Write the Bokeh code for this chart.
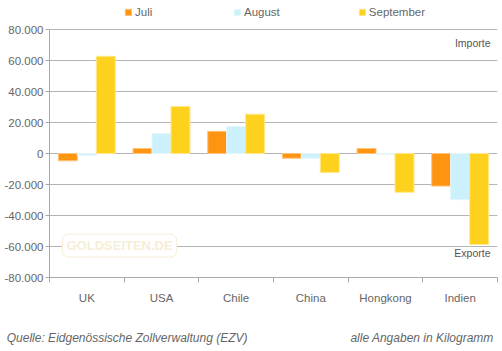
from bokeh.plotting import figure
from bokeh.models import (ColumnDataSource, Range1d, FixedTicker, Legend, LegendItem, Label,
                          LinearAxis)
from bokeh.transform import dodge
from bokeh.embed import file_html
from bokeh.resources import INLINE

categories = ["UK", "USA", "Chile", "China", "Hongkong", "Indien"]
juli = [-4700, 3200, 14300, -3000, 3200, -21000]
august = [-1200, 12900, 17500, -3000, -600, -29800]
september = [62700, 30300, 25300, -12200, -25000, -58700]
series_names = ["Juli", "August", "September"]
y_ticks = [-80000, -60000, -40000, -20000, 0, 20000, 40000, 60000, 80000]
source_note = "Quelle: Eidgenössische Zollverwaltung (EZV)"
unit_note = "alle Angaben in Kilogramm"

colors = ["#FF9411", "#CCF0FC", "#FFD11F"]
edges = ["#FFC27A", "#E3F7FD", "#FFE789"]
FONT = "Liberation Sans"
GREY = "#666666"
AXIS = "#A8A8A8"

src = ColumnDataSource(dict(
    x=[i + 0.5 for i in range(len(categories))],
    juli=juli, august=august, september=september,
))

# frame spans from the canvas top to the x axis (277 px); 31 px per 20000
y_top = -80000 + 277 / 31 * 20000
p = figure(width=502, height=351, output_backend="svg", toolbar_location=None,
           x_range=Range1d(0, len(categories)), y_range=Range1d(-80000, y_top),
           min_border_left=49, min_border_right=5, min_border_top=0,
           min_border_bottom=74)
p.outline_line_color = None
p.background_fill_color = "white"
p.border_fill_color = "white"

bw = 0.254
offsets = [-bw, 0.0, bw]
fields = ["juli", "august", "september"]
renderers = []
for f, off, c, e in zip(fields, offsets, colors, edges):
    r = p.vbar(x=dodge("x", off), top=f, bottom=0, width=bw, source=src,
               fill_color=c, line_color=e, line_width=1)
    renderers.append(r)

# x axis: labels centred in categories, tick marks between categories
p.xaxis.ticker = FixedTicker(ticks=[i + 0.5 for i in range(len(categories))],
                             minor_ticks=list(range(len(categories) + 1)))
p.xaxis.major_label_overrides = {i + 0.5: c for i, c in enumerate(categories)}
p.xaxis.major_tick_out = 0
p.xaxis.major_tick_in = 0
p.xaxis.minor_tick_out = 5
p.xaxis.minor_tick_in = 0
p.xaxis.minor_tick_line_color = AXIS
p.xaxis.axis_line_color = AXIS
p.xaxis.major_label_standoff = 9
p.xaxis.major_label_text_font = FONT
p.xaxis.major_label_text_font_size = "11.5px"
p.xaxis.major_label_text_color = GREY
p.xgrid.visible = False

p.yaxis.ticker = FixedTicker(ticks=y_ticks)
p.yaxis.bounds = (y_ticks[0], y_ticks[-1])
p.yaxis.major_label_overrides = {t: f"{t:,}".replace(",", ".") for t in y_ticks}
p.yaxis.major_tick_out = 4
p.yaxis.major_tick_in = 0
p.yaxis.minor_tick_line_color = None
p.yaxis.major_tick_line_color = AXIS
p.yaxis.axis_line_color = AXIS
p.yaxis.major_label_standoff = 2
p.yaxis.major_label_text_font = FONT
p.yaxis.major_label_text_font_size = "11.5px"
p.yaxis.major_label_text_color = GREY
p.ygrid.ticker = FixedTicker(ticks=y_ticks)
p.ygrid.grid_line_color = "#B4B4B4"

# footer notes as a second, line-less axis below
foot = LinearAxis(ticker=FixedTicker(ticks=[1.04, 4.99]),
                  major_label_overrides={1.04: source_note, 4.99: unit_note},
                  axis_line_color=None, major_tick_line_color=None,
                  minor_tick_line_color=None, major_tick_out=0, major_tick_in=0,
                  major_label_standoff=24,
                  major_label_text_font=FONT, major_label_text_font_size="12px",
                  major_label_text_font_style="italic", major_label_text_color=GREY)
p.add_layout(foot, "below")

legend = Legend(items=[LegendItem(label=n, renderers=[r]) for n, r in zip(series_names, renderers)],
                orientation="horizontal", location=(75, 259),
                glyph_width=8, glyph_height=8, label_standoff=3, spacing=78,
                padding=0, margin=0, border_line_color=None,
                background_fill_alpha=0,
                label_text_font=FONT, label_text_font_size="11.5px",
                label_text_color=GREY, label_height=12)
p.add_layout(legend)

p.add_layout(Label(x=len(categories), y=71000, x_offset=-7, text="Importe",
                   text_align="right", text_baseline="middle",
                   text_font=FONT, text_font_size="10.5px", text_color="#555555"))
p.add_layout(Label(x=len(categories), y=-64500, x_offset=-7, text="Exporte",
                   text_align="right", text_baseline="middle",
                   text_font=FONT, text_font_size="10.5px", text_color="#555555"))

# faint watermark
p.add_layout(Label(x=0.174, y=-59400, text="GOLDSEITEN.DE", text_align="left",
                   text_baseline="middle", text_font=FONT,
                   text_font_size="13px", text_font_style="bold", text_color="#F6EED6",
                   background_fill_color="white", border_line_color="#F6EED6",
                   padding=4, border_radius=6))

open("out.html", "w").write(file_html(p, INLINE))
